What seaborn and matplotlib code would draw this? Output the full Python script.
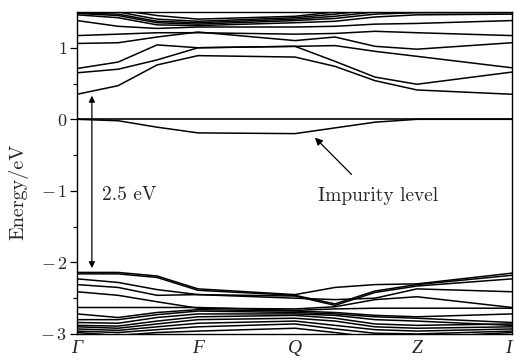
import numpy as np
import pandas as pd
import matplotlib
matplotlib.use("Agg")
import matplotlib.pyplot as plt
import seaborn as sns

# ---------------- data ----------------
k_path = [0.0, 0.0943, 0.1839, 0.2782, 0.5011, 0.5931, 0.6851, 0.7816, 1.0]
k_tick_pos = [0.0, 0.2782, 0.5011, 0.7816, 1.0]
k_tick_labels = ["Γ", "F", "Q", "Z", "I"]

y_tick_pos = [-3, -2, -1, 0, 1]
y_tick_labels = [r"$-\,3$", r"$-\,2$", r"$-\,1$", r"$0$", r"$1$"]

fermi_level = 0.0

cb1 = [0.35, 0.47, 0.76, 0.89, 0.87, 0.74, 0.54, 0.41, 0.35]
cb2 = [0.65, 0.70, 0.83, 1.00, 1.02, 0.81, 0.59, 0.49, 0.66]
cb3 = [0.71, 0.80, 1.04, 1.00, 1.02, 1.03, 0.95, 0.88, 0.72]
cb4 = [1.06, 1.07, 1.15, 1.22, 1.10, 1.15, 1.02, 0.98, 1.07]
cb5 = [1.17, 1.19, 1.21, 1.21, 1.19, 1.20, 1.23, 1.21, 1.17]
cb6 = [1.38, 1.30, 1.27, 1.29, 1.29, 1.30, 1.33, 1.34, 1.38]
cb7 = [1.46, 1.42, 1.32, 1.31, 1.35, 1.37, 1.43, 1.46, 1.47]
cb8 = [1.48, 1.45, 1.35, 1.33, 1.38, 1.41, 1.47, 1.49, 1.49]
cb9 = [1.49, 1.47, 1.37, 1.35, 1.40, 1.44, 1.50, 1.52, 1.52]
cb10 = [1.51, 1.50, 1.40, 1.37, 1.42, 1.47, 1.53, 1.55, 1.55]
cb11 = [1.55, 1.53, 1.45, 1.40, 1.44, 1.50, 1.56, 1.58, 1.58]

impurity = [0.0, -0.02, -0.11, -0.19, -0.20, -0.12, -0.04, 0.0, 0.0]

vb1 = [-2.14, -2.14, -2.19, -2.37, -2.45, -2.35, -2.31, -2.30, -2.15]
vb2 = [-2.16, -2.16, -2.21, -2.39, -2.46, -2.58, -2.40, -2.31, -2.18]
vb3 = [-2.23, -2.28, -2.38, -2.45, -2.47, -2.60, -2.42, -2.33, -2.23]
vb4 = [-2.31, -2.35, -2.46, -2.45, -2.50, -2.52, -2.50, -2.37, -2.41]
vb5 = [-2.41, -2.46, -2.55, -2.64, -2.65, -2.62, -2.52, -2.48, -2.63]
vb6 = [-2.63, -2.63, -2.63, -2.63, -2.67, -2.65, -2.64, -2.64, -2.64]
vb7 = [-2.72, -2.77, -2.70, -2.66, -2.68, -2.70, -2.74, -2.76, -2.72]
vb8 = [-2.80, -2.80, -2.73, -2.68, -2.70, -2.72, -2.76, -2.78, -2.84]
vb9 = [-2.84, -2.85, -2.77, -2.72, -2.72, -2.74, -2.80, -2.82, -2.88]
vb10 = [-2.88, -2.89, -2.82, -2.76, -2.74, -2.78, -2.86, -2.88, -2.86]
vb11 = [-2.90, -2.92, -2.86, -2.80, -2.78, -2.82, -2.90, -2.92, -2.90]
vb12 = [-2.93, -2.95, -2.90, -2.85, -2.82, -2.88, -2.94, -2.96, -2.93]
vb13 = [-2.96, -2.98, -2.94, -2.90, -2.86, -2.93, -2.99, -3.00, -2.96]
vb14 = [-2.98, -3.02, -2.98, -2.96, -2.92, -2.98, -3.05, -3.05, -2.98]

gap_top = 0.33
gap_bottom = -2.08
gap_x = 0.034
gap_text = "2.5 eV"
impurity_text = "Impurity level"
impurity_arrow_tip = (0.547, -0.256)
impurity_arrow_tail = (0.631, -0.77)

# ---------------- build long table ----------------
bands = [cb1, cb2, cb3, cb4, cb5, cb6, cb7, cb8, cb9, cb10, cb11, impurity,
         vb1, vb2, vb3, vb4, vb5, vb6, vb7, vb8, vb9, vb10, vb11, vb12, vb13, vb14]
rows = []
for i, b in enumerate(bands):
    for k, e in zip(k_path, b):
        rows.append({"band": i, "k": k, "E": e})
df = pd.DataFrame(rows)

# ---------------- style ----------------
sns.set_theme(style="ticks")
plt.rcParams["font.family"] = ["cmr10", "DejaVu Serif"]
plt.rcParams["mathtext.fontset"] = "cm"
plt.rcParams["axes.formatter.use_mathtext"] = True
plt.rcParams["axes.unicode_minus"] = True

fig = plt.figure(figsize=(5.14, 3.63), dpi=100)
ax = fig.add_axes([0.150, 0.080, 0.846, 0.887])

sns.lineplot(data=df, x="k", y="E", units="band", estimator=None,
             color="black", linewidth=1.1, ax=ax, legend=False, sort=False)
ax.axhline(fermi_level, color="black", linewidth=1.2)

ax.set_xlim(0, 1)
ax.set_ylim(-3, 1.5)

ax.set_xticks(k_tick_pos)
xt = ax.set_xticklabels(k_tick_labels, fontfamily="Liberation Serif",
                        fontstyle="italic", fontsize=14)
xt[-1].set_horizontalalignment("right")
ax.tick_params(axis="x", length=0, pad=4)

ax.set_yticks(y_tick_pos)
ax.set_yticklabels(y_tick_labels, fontsize=13)
ax.set_yticks(np.arange(-2.5, 1.5, 1.0), minor=True)
ax.tick_params(axis="y", which="major", direction="out", length=5, width=0.9,
               color="black", pad=2)
ax.tick_params(axis="y", which="minor", direction="out", length=3, width=0.9,
               color="black")

ax.set_xlabel("")
ax.set_ylabel("Energy/eV", fontsize=14.5)
ax.yaxis.set_label_coords(-0.112, 0.44)

for sp in ax.spines.values():
    sp.set_visible(True)
    sp.set_color("black")
    sp.set_linewidth(1.0)

ax.annotate("", xy=(gap_x, gap_top), xytext=(gap_x, gap_bottom),
            arrowprops=dict(arrowstyle="<|-|>", color="black", lw=0.9,
                            mutation_scale=9, shrinkA=0, shrinkB=0))
ax.text(0.057, -1.06, gap_text, fontsize=14, ha="left", va="center")

ax.annotate("", xy=impurity_arrow_tip, xytext=impurity_arrow_tail,
            arrowprops=dict(arrowstyle="-|>", color="black", lw=0.9,
                            mutation_scale=11, shrinkA=0, shrinkB=0))
ax.text(0.692, -1.07, impurity_text, fontsize=14, ha="center", va="center")

fig.savefig("out.png", dpi=100)
